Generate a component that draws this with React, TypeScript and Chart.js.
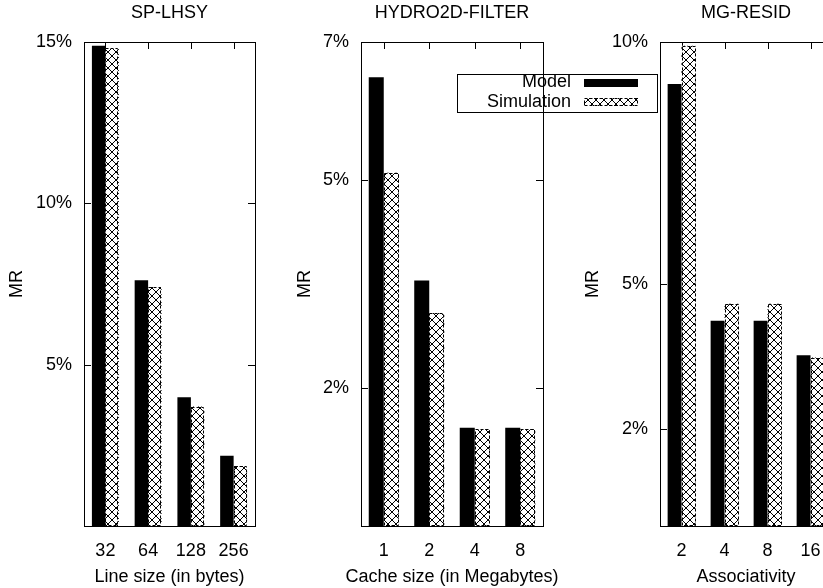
import React, { useEffect, useRef } from 'react';
import { Chart, registerables } from 'chart.js';

Chart.register(...registerables);

// ---- data ----
const seriesNames = ['Model', 'Simulation'];

const lineSizeLabels = ['32', '64', '128', '256'];
const lineSizeModel = [14.88, 7.62, 3.99, 2.18];
const lineSizeSimulation = [14.8, 7.41, 3.7, 1.86];
const lineSizeTicks = [5, 10, 15];

const cacheSizeLabels = ['1', '2', '4', '8'];
const cacheSizeModel = [6.49, 3.55, 1.42, 1.42];
const cacheSizeSimulation = [5.11, 3.08, 1.4, 1.4];
const cacheSizeTicks = [2, 5, 7];

const assocLabels = ['2', '4', '8', '16'];
const assocModel = [9.13, 4.24, 4.24, 3.53];
const assocSimulation = [9.92, 4.59, 4.59, 3.48];
const assocTicks = [2, 5, 10];

// ---- panel layout ----
const panels = [
  {
    title: 'SP-LHSY', xTitle: 'Line size (in bytes)',
    labels: lineSizeLabels, model: lineSizeModel, sim: lineSizeSimulation, ticks: lineSizeTicks, max: 15,
    left: 0, width: 290, axisWidth: 84, padRight: 35, yTitlePad: 6, catPct: 0.63, legend: false,
  },
  {
    title: 'HYDRO2D-FILTER', xTitle: 'Cache size (in Megabytes)',
    labels: cacheSizeLabels, model: cacheSizeModel, sim: cacheSizeSimulation, ticks: cacheSizeTicks, max: 7,
    left: 280, width: 400, axisWidth: 81, padRight: 137, yTitlePad: 14, catPct: 0.66, legend: true,
  },
  {
    title: 'MG-RESID', xTitle: 'Associativity',
    labels: assocLabels, model: assocModel, sim: assocSimulation, ticks: assocTicks, max: 10,
    left: 570, width: 300, axisWidth: 90, padRight: 38, yTitlePad: 12.7, catPct: 0.645, legend: false,
  },
];

const FONT = '"Liberation Sans", Arial, Helvetica, sans-serif';
const FS = 18;

function makePattern(ctx: CanvasRenderingContext2D) {
  const n = 8;
  const c = document.createElement('canvas');
  c.width = n;
  c.height = n;
  const g = c.getContext('2d')!;
  g.fillStyle = '#fff';
  g.fillRect(0, 0, n, n);
  g.fillStyle = '#000';
  for (let i = 0; i < n; i++) {
    g.fillRect(i, i, 1, 1);
    g.fillRect(n - 1 - i, i, 1, 1);
  }
  return ctx.createPattern(c, 'repeat')!;
}

const framePlugin = {
  id: 'gnuFrame',
  beforeDatasetsDraw(chart: any) {
    const { ctx, chartArea: a } = chart;
    const x = chart.scales.x;
    const y = chart.scales.y;
    const len = 7;
    ctx.save();
    ctx.strokeStyle = '#000';
    ctx.lineWidth = 1;
    ctx.beginPath();
    x.ticks.forEach((_: any, i: number) => {
      const px = Math.round(x.getPixelForTick(i)) + 0.5;
      ctx.moveTo(px, a.top);
      ctx.lineTo(px, a.top + len);
      ctx.moveTo(px, a.bottom);
      ctx.lineTo(px, a.bottom - len);
    });
    y.ticks.forEach((t: any) => {
      const py = Math.round(y.getPixelForValue(t.value)) + 0.5;
      ctx.moveTo(a.left, py);
      ctx.lineTo(a.left + len, py);
      ctx.moveTo(a.right, py);
      ctx.lineTo(a.right - len, py);
    });
    ctx.stroke();
    ctx.restore();
  },
  afterDatasetsDraw(chart: any) {
    const { ctx, chartArea: a } = chart;
    ctx.save();
    ctx.strokeStyle = '#000';
    ctx.lineWidth = 1;
    ctx.setLineDash([3, 2]);
    const meta = chart.getDatasetMeta(1);
    meta.data.forEach((bar: any) => {
      const { x, y, base, width } = bar.getProps(['x', 'y', 'base', 'width'], true);
      const l = Math.round(x - width / 2) + 0.5;
      const t = Math.round(y) + 0.5;
      ctx.strokeRect(l, t, Math.round(width) - 1, Math.round(base) - Math.round(y) - 1);
    });
    ctx.setLineDash([]);
    ctx.strokeRect(Math.round(a.left) + 0.5, Math.round(a.top) + 0.5, Math.round(a.right - a.left), Math.round(a.bottom - a.top));
    ctx.restore();
  },
  afterDraw(chart: any) {
    const opts = chart.options.plugins.gnuFrame;
    if (!opts || !opts.xTitle) return;
    const { ctx, chartArea: a } = chart;
    ctx.save();
    ctx.fillStyle = '#000';
    ctx.font = `${FS}px ${FONT}`;
    ctx.textAlign = 'center';
    ctx.textBaseline = 'middle';
    ctx.fillText(opts.xTitle, (a.left + a.right) / 2, chart.height - 11);
    ctx.restore();
  },
};

const legendPlugin = {
  id: 'gnuLegend',
  afterDraw(chart: any) {
    const opts = chart.options.plugins.gnuLegend;
    if (!opts || !opts.show) return;
    const { ctx, chartArea: a } = chart;
    ctx.save();
    ctx.strokeStyle = '#000';
    ctx.lineWidth = 1;
    const bl = Math.round(a.right - 86);
    const br = Math.round(a.right + 114);
    const bt = Math.round(a.top + 32);
    const bb = Math.round(a.top + 70);
    ctx.strokeRect(bl + 0.5, bt + 0.5, br - bl, bb - bt);
    ctx.font = `${FS}px ${FONT}`;
    ctx.textAlign = 'right';
    ctx.textBaseline = 'middle';
    chart.data.datasets.forEach((ds: any, i: number) => {
      const cy = a.top + 40.5 + i * 19.5;
      ctx.fillStyle = '#000';
      ctx.fillText(ds.label, a.right + 28, cy);
      const sx = Math.round(a.right + 41);
      const sy = Math.round(cy - 4);
      ctx.fillStyle = ds.backgroundColor;
      ctx.fillRect(sx, sy, 54, 8);
      if (i === 1) {
        ctx.setLineDash([3, 2]);
        ctx.strokeRect(sx + 0.5, sy + 0.5, 53, 7);
        ctx.setLineDash([]);
      }
    });
    ctx.restore();
  },
};

function buildConfig(p: any, pattern: CanvasPattern): any {
  return {
    type: 'bar',
    data: {
      labels: p.labels,
      datasets: [
        {
          label: seriesNames[0], data: p.model, backgroundColor: '#000', borderWidth: 0,
          categoryPercentage: p.catPct, barPercentage: 1,
        },
        {
          label: seriesNames[1], data: p.sim, backgroundColor: pattern, borderWidth: 0,
          categoryPercentage: p.catPct, barPercentage: 1,
        },
      ],
    },
    options: {
      animation: false,
      responsive: false,
      devicePixelRatio: 1,
      events: [],
      layout: { padding: { left: 0, top: 0, right: p.padRight, bottom: 0 } },
      plugins: {
        legend: { display: false },
        tooltip: { enabled: false },
        title: {
          display: true, text: p.title, fullSize: false, color: '#000',
          font: { family: FONT, size: FS, weight: 'normal' },
          padding: { top: 2.5, bottom: 17.9 },
        },
        gnuLegend: { show: p.legend },
        gnuFrame: { xTitle: p.xTitle },
      },
      scales: {
        x: {
          type: 'category', offset: true,
          grid: { display: false, drawTicks: false },
          border: { display: false },
          ticks: { padding: 14.2, autoSkip: false, maxRotation: 0, color: '#000', font: { family: FONT, size: FS } },
          title: { display: false },
          afterFit: (s: any) => { s.height = 62; },
        },
        y: {
          type: 'linear', min: 0, max: p.max,
          grid: { display: false, drawTicks: false },
          border: { display: false },
          afterBuildTicks: (s: any) => { s.ticks = p.ticks.map((v: number) => ({ value: v })); },
          afterFit: (s: any) => { s.width = p.axisWidth; },
          ticks: {
            padding: 12, color: '#000', font: { family: FONT, size: FS },
            callback: (v: any) => `${v}%`,
          },
          title: {
            display: true, text: 'MR', color: '#000',
            font: { family: FONT, size: FS }, padding: { top: p.yTitlePad, bottom: 0 },
          },
        },
      },
    },
    plugins: [framePlugin, legendPlugin],
  };
}

export default function App() {
  const r0 = useRef<HTMLCanvasElement>(null);
  const r1 = useRef<HTMLCanvasElement>(null);
  const r2 = useRef<HTMLCanvasElement>(null);
  const refs = [r0, r1, r2];

  useEffect(() => {
    const charts = panels.map((p, i) => {
      const canvas = refs[i].current!;
      const ctx = canvas.getContext('2d')!;
      return new Chart(canvas, buildConfig(p, makePattern(ctx)));
    });
    return () => charts.forEach((c) => c.destroy());
  }, []);

  return (
    <div
      style={{
        position: 'fixed', left: 0, top: 0, width: 823, height: 588,
        overflow: 'hidden', background: '#fff',
      }}
    >
      {panels.map((p, i) => (
        <canvas
          key={i}
          ref={refs[i]}
          width={p.width}
          height={588}
          style={{
            position: 'absolute', left: p.left, top: 0, width: p.width, height: 588,
            zIndex: p.legend ? 2 : 1,
          }}
        />
      ))}
    </div>
  );
}
